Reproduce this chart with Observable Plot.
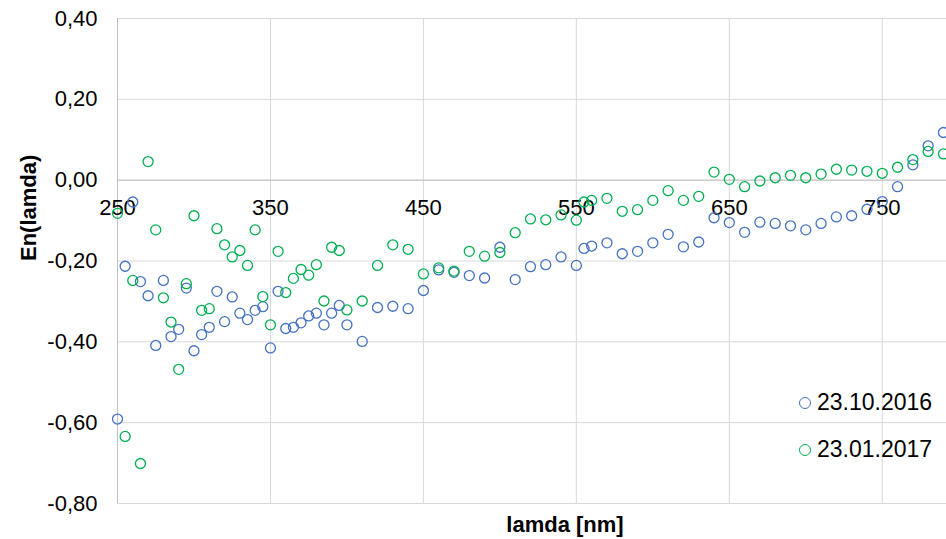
<!DOCTYPE html>
<html>
<head>
<meta charset="utf-8">
<script src="https://cdn.jsdelivr.net/npm/d3@7"></script>
<script src="https://cdn.jsdelivr.net/npm/@observablehq/plot@0.6"></script>
<style>
  html, body { margin: 0; padding: 0; background: #fff; }
  #wrap { position: relative; width: 946px; height: 539px; font-family: "Liberation Sans", Arial, sans-serif; }
  .leg { position: absolute; left: 799px; font-size: 23px; color: #000; display: flex; align-items: center; line-height: 1; }
  .leg span.m { display: inline-block; width: 10px; height: 10px; border-radius: 50%; border: 1.3px solid; margin-right: 6px; }
</style>
</head>
<body>
<div id="wrap"></div>
<script>
const wavelengths = [250,255,260,265,270,275,280,285,290,295,300,305,310,315,320,325,330,335,340,345,350,355,360,365,370,375,380,385,390,395,400,410,420,430,440,450,460,470,480,490,500,510,520,530,540,550,555,560,570,580,590,600,610,620,630,640,650,660,670,680,690,700,710,720,730,740,750,760,770,780,790];

const series2016 = [-0.591,-0.213,-0.054,-0.251,-0.286,-0.409,-0.248,-0.387,-0.369,-0.267,-0.422,-0.382,-0.364,-0.275,-0.350,-0.289,-0.329,-0.345,-0.322,-0.313,-0.415,-0.275,-0.367,-0.364,-0.353,-0.336,-0.329,-0.358,-0.329,-0.310,-0.358,-0.399,-0.315,-0.312,-0.318,-0.273,-0.222,-0.228,-0.236,-0.242,-0.166,-0.246,-0.214,-0.209,-0.190,-0.211,-0.169,-0.163,-0.155,-0.182,-0.176,-0.155,-0.134,-0.165,-0.153,-0.093,-0.105,-0.129,-0.104,-0.107,-0.113,-0.123,-0.107,-0.091,-0.088,-0.072,-0.053,-0.016,0.038,0.085,0.118];

const series2017 = [-0.082,-0.634,-0.248,-0.701,0.046,-0.123,-0.291,-0.351,-0.468,-0.256,-0.088,-0.322,-0.318,-0.120,-0.160,-0.190,-0.174,-0.211,-0.123,-0.288,-0.358,-0.176,-0.278,-0.243,-0.221,-0.235,-0.209,-0.299,-0.166,-0.174,-0.321,-0.299,-0.211,-0.160,-0.171,-0.232,-0.217,-0.225,-0.176,-0.188,-0.179,-0.130,-0.096,-0.098,-0.086,-0.099,-0.054,-0.050,-0.045,-0.077,-0.073,-0.050,-0.026,-0.050,-0.040,0.020,0.002,-0.016,-0.002,0.006,0.012,0.006,0.015,0.027,0.025,0.022,0.017,0.032,0.051,0.071,0.065];

const seriesNames = ["23.10.2016", "23.01.2017"];
const seriesColors = ["#4472C4", "#00B050"];
const xTicks = [250, 350, 450, 550, 650, 750];
const yTicks = [-0.8, -0.6, -0.4, -0.2, 0, 0.2, 0.4];
const xTitle = "lamda [nm]";
const yTitle = "En(lamda)";

const d2016 = wavelengths.map((x, i) => ({x, y: series2016[i]}));
const d2017 = wavelengths.map((x, i) => ({x, y: series2017[i]}));
const fmt = d => d3.format(".2f")(d).replace("−", "-").replace(".", ",");

const chart = Plot.plot({
  width: 946,
  height: 539,
  marginLeft: 117,
  marginRight: 0,
  marginTop: 18,
  marginBottom: 36,
  style: {fontFamily: "'Liberation Sans', Arial, sans-serif", fontSize: "22px", color: "#000", background: "#fff"},
  x: {domain: [250, 792], axis: null},
  y: {domain: [-0.8, 0.4], axis: null},
  marks: [
    Plot.gridX(xTicks, {stroke: "#d9d9d9", strokeOpacity: 1, strokeWidth: 1}),
    Plot.gridY(yTicks, {stroke: "#d9d9d9", strokeOpacity: 1, strokeWidth: 1}),
    Plot.ruleX([250], {stroke: "#bfbfbf", strokeWidth: 1}),
    Plot.ruleY([0], {stroke: "#bfbfbf", strokeWidth: 1}),
    Plot.axisY(yTicks, {tickSize: 0, tickPadding: 20, tickFormat: fmt, fontSize: 22, label: null}),
    Plot.text(xTicks, {x: d => d, y: 0, dy: 28, text: d => String(d), fontSize: 22, lineAnchor: "middle", fill: "#000"}),
    Plot.dot(d2016, {x: "x", y: "y", r: 5, stroke: seriesColors[0], strokeWidth: 1.3, fill: "none"}),
    Plot.dot(d2017, {x: "x", y: "y", r: 5, stroke: seriesColors[1], strokeWidth: 1.3, fill: "none"}),
    Plot.text([yTitle], {frameAnchor: "left", rotate: -90, dx: -89, text: d => d, fontWeight: "bold", fontSize: 22, lineAnchor: "middle", fill: "#000"}),
    Plot.text([xTitle], {frameAnchor: "bottom", dx: 33, dy: 21, text: d => d, fontWeight: "bold", fontSize: 22, lineAnchor: "middle", fill: "#000"})
  ]
});

const wrap = document.getElementById("wrap");
wrap.appendChild(chart);
const legendTops = [391, 438];
seriesNames.forEach((name, i) => {
  const div = document.createElement("div");
  div.className = "leg";
  div.style.top = legendTops[i] + "px";
  const m = document.createElement("span");
  m.className = "m";
  m.style.borderColor = seriesColors[i];
  div.appendChild(m);
  div.appendChild(document.createTextNode(name));
  wrap.appendChild(div);
});
</script>
</body>
</html>
